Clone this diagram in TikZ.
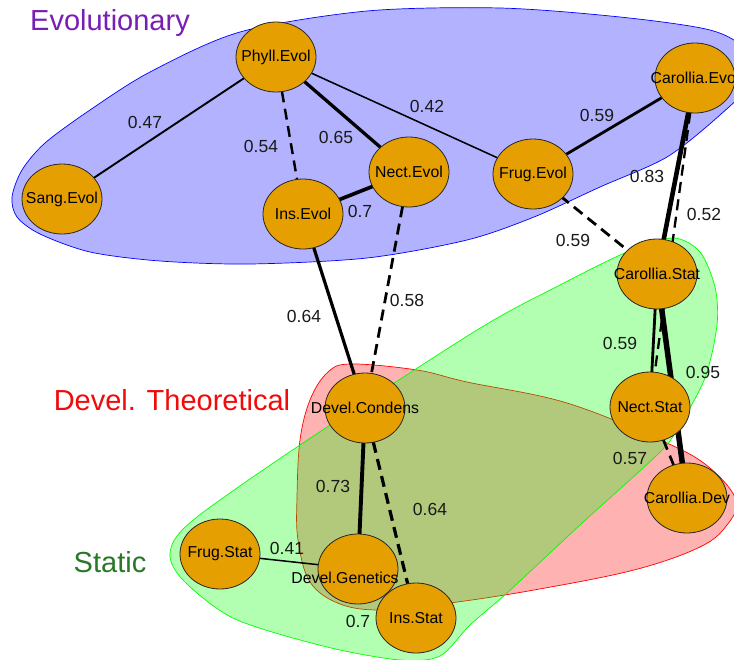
\documentclass[tikz,border=0pt]{standalone}
\usepackage{fontspec}
\setmainfont{Liberation Sans}
\usetikzlibrary{shapes.geometric}
\pgfdeclarelayer{blobs}
\pgfdeclarelayer{edges}
\pgfsetlayers{blobs,edges,main}

\definecolor{nodefill}{HTML}{E69F00}
\definecolor{evocol}{RGB}{120,30,180}
\definecolor{statcol}{RGB}{40,120,40}
\definecolor{theocol}{RGB}{240,10,10}

\tikzset{
  var/.style={ellipse, draw=black!85, line width=0.8pt, fill=nodefill,
    minimum width=80pt, minimum height=70pt, inner sep=0pt},
  vlabel/.style={font=\fontsize{15.8}{16}\selectfont, inner sep=0pt},
  elabel/.style={font=\fontsize{17.5}{18}\selectfont, text=black!90, inner sep=0pt},
  glabel/.style={font=\fontsize{29}{30}\selectfont, inner sep=0pt},
  link/.style={line width=#1, black},
  dlink/.style={line width=#1, black, dash pattern=on 11pt off 6.5pt},
  blob/.style={line width=0.7pt, draw=#1, fill=#1, fill opacity=0.3},
}

\begin{document}
\begin{tikzpicture}[x=1pt, y=-1pt]
\useasboundingbox (0,0) rectangle (734,659);
\clip (0,0) rectangle (734,659);

% group hulls
\begin{pgfonlayer}{blobs}
  \path[blob=blue] plot[smooth cycle, tension=0.5] coordinates {
    (12,197) (22,170) (45,143) (90,110) (150,72) (240,32) (367,11)
    (500,8) (620,17) (710,30) (745,50) (748,85) (720,115) (667,157)
    (600,187) (534,217) (467,240) (367,258) (250,264) (160,261)
    (90,252) (40,234) (17,217)};
  \path[blob=red] plot[smooth cycle, tension=0.6] coordinates {
    (297,497) (300,440) (310,400) (327,373) (350,364) (417,370) (467,382)
    (567,403) (667,443) (710,468) (736,500) (727,525) (700,547) (634,570)
    (534,590) (450,603) (383,610) (340,604) (310,582) (298,540)};
  \path[blob=green] plot[smooth cycle, tension=0.5] coordinates {
    (170,553) (192,521) (300,445) (477,330) (560,285) (627,252) (673,238)
    (700,252) (715,287) (717,325) (705,378) (677,430) (657,455) (580,525)
    (507,593) (470,625) (440,656) (400,660) (327,647) (235,619) (184,581)};
\end{pgfonlayer}

% variables
\node[var, label={[vlabel]center:Phyll.Evol}]    (phyll)    at (276,57)  {};
\node[var, label={[vlabel]center:Sang.Evol}]     (sang)     at (62,199)  {};
\node[var, label={[vlabel]center:Ins.Evol}]      (insevo)   at (303,214) {};
\node[var, label={[vlabel]center:Nect.Evol}]     (nectevo)  at (409,172) {};
\node[var, label={[vlabel]center:Frug.Evol}]     (frugevo)  at (533,174) {};
\node[var, label={[vlabel]center:Carollia.Evol}] (carevo)   at (695,78)  {};
\node[var, label={[vlabel]center:Carollia.Stat}] (carstat)  at (657,274) {};
\node[var, label={[vlabel]center:Nect.Stat}]     (nectstat) at (650,407) {};
\node[var, label={[vlabel]center:Carollia.Dev}]  (cardev)   at (687,498) {};
\node[var, label={[vlabel]center:Devel.Condens}] (condens)  at (365,408) {};
\node[var, label={[vlabel]center:Frug.Stat}]     (frugstat) at (220,554) {};
\node[var, label={[vlabel, xshift=-13pt, yshift=-9pt]center:Devel.Genetics}] (genetics) at (358,569) {};
\node[var, label={[vlabel]center:Ins.Stat}]      (insstat)  at (416,618) {};

% associations
\begin{pgfonlayer}{edges}
  \draw[link=1.9pt]  (phyll.center) -- (sang.center);
  \draw[dlink=2.45pt] (phyll.center) -- (insevo.center);
  \draw[link=3.3pt]  (phyll.center) -- (nectevo.center);
  \draw[link=1.55pt] (phyll.center) -- (frugevo.center);
  \draw[link=2.8pt]  (frugevo.center) -- (carevo.center);
  \draw[link=3.65pt] (insevo.center) -- (nectevo.center);
  \draw[link=3.2pt]  (insevo.center) -- (condens.center);
  \draw[dlink=2.75pt] (nectevo.center) -- (condens.center);
  \draw[dlink=2.8pt] (frugevo.center) -- (carstat.center);
  \draw[link=4.6pt]  (carevo.center) -- (carstat.center);
  \draw[dlink=2.3pt] (carevo.center) -- (nectstat.center);
  \draw[link=2.8pt]  (carstat.center) -- (nectstat.center);
  \draw[link=5.5pt]  (carstat.center) -- (cardev.center);
  \draw[dlink=2.7pt] (nectstat.center) -- (cardev.center);
  \draw[link=3.9pt]  (condens.center) -- (genetics.center);
  \draw[dlink=3.2pt] (condens.center) -- (insstat.center);
  \draw[link=1.5pt]  (frugstat.center) -- (genetics.center);
  \draw[link=3.65pt] (genetics.center) -- (insstat.center);
\end{pgfonlayer}

% weights
\node[elabel] (w1)  at (145,122) {0.47};
\node[elabel] (w2)  at (261,146) {0.54};
\node[elabel] (w3)  at (336,137) {0.65};
\node[elabel] (w4)  at (427,106) {0.42};
\node[elabel] (w5)  at (597,115) {0.59};
\node[elabel] (w6)  at (360,211) {0.7};
\node[elabel] (w7)  at (647,176) {0.83};
\node[elabel] (w8)  at (704,214) {0.52};
\node[elabel] (w9)  at (573,240) {0.59};
\node[elabel] (w10) at (407,300) {0.58};
\node[elabel] (w11) at (304,316) {0.64};
\node[elabel] (w12) at (620,343) {0.59};
\node[elabel] (w13) at (703,372) {0.95};
\node[elabel] (w14) at (630,458) {0.57};
\node[elabel] (w15) at (333,486) {0.73};
\node[elabel] (w16) at (430,509) {0.64};
\node[elabel] (w17) at (287,548) {0.41};
\node[elabel] (w18) at (358,621) {0.7};

% group names
\node[glabel, text=evocol]  (gevo)  at (110,23)  {Evolutionary};
\node[glabel, text=theocol] (gtheo) at (172,400) {Devel. Theoretical};
\node[glabel, text=statcol] (gstat) at (110,562) {Static};
\end{tikzpicture}
\end{document}
